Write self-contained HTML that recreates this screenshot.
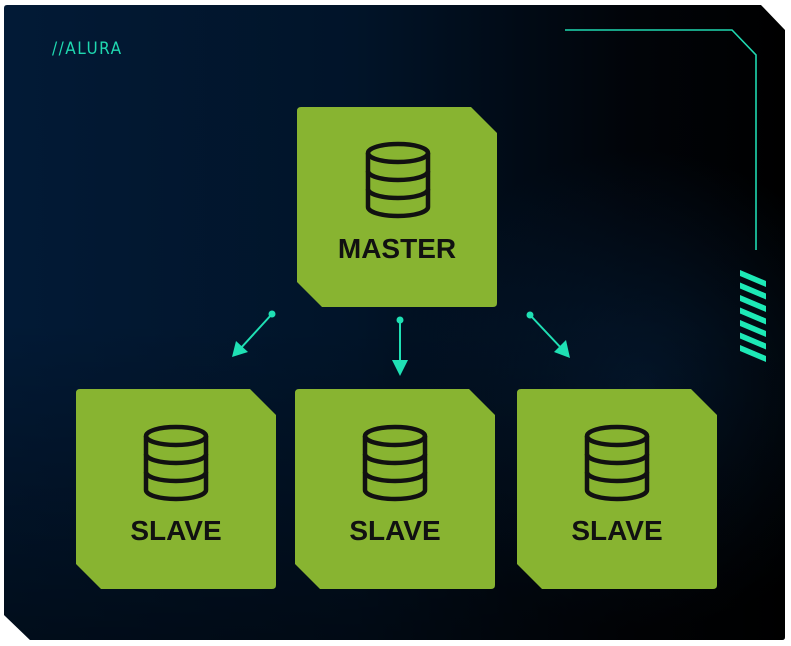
<!DOCTYPE html>
<html><head><meta charset="utf-8"><style>
html,body{margin:0;padding:0;background:#fff;width:791px;height:646px;overflow:hidden}
svg{display:block}
text{font-family:"Liberation Sans",sans-serif}
</style></head><body>
<svg width="791" height="646" viewBox="0 0 791 646" xmlns="http://www.w3.org/2000/svg">
<defs>
<linearGradient id="bg" x1="0" y1="0" x2="1" y2="0">
<stop offset="0" stop-color="#021a36"/>
<stop offset="0.45" stop-color="#011429"/>
<stop offset="0.8" stop-color="#010409"/>
<stop offset="1" stop-color="#000000"/>
</linearGradient>
<radialGradient id="glow" cx="640" cy="390" r="240" gradientUnits="userSpaceOnUse">
<stop offset="0" stop-color="#06294f" stop-opacity="0.5"/>
<stop offset="1" stop-color="#06294f" stop-opacity="0"/>
</radialGradient>
<linearGradient id="bot" x1="0" y1="0" x2="0" y2="1">
<stop offset="0.5" stop-color="#000" stop-opacity="0"/>
<stop offset="1" stop-color="#000" stop-opacity="0.5"/>
</linearGradient>
<g id="db" fill="none" stroke="#111" stroke-width="4.5">
<ellipse cx="0" cy="0" rx="30" ry="9"/>
<path d="M-30 0 V54 A30 9 0 0 0 30 54 V0"/>
<path d="M-30 18 A30 9 0 0 0 30 18"/>
<path d="M-30 36 A30 9 0 0 0 30 36"/>
</g>
</defs>
<path d="M7 5 H761 L785 30 V637 Q785 640 782 640 H30 L4 615 V8 Q4 5 7 5Z" fill="url(#bg)"/>
<path d="M7 5 H761 L785 30 V637 Q785 640 782 640 H30 L4 615 V8 Q4 5 7 5Z" fill="url(#glow)"/>
<path d="M7 5 H761 L785 30 V637 Q785 640 782 640 H30 L4 615 V8 Q4 5 7 5Z" fill="url(#bot)"/>
<text x="52" y="54" fill="#1fd8b0" font-size="17" letter-spacing="1.5" style="font-family:'DejaVu Sans Condensed','Liberation Sans Narrow',sans-serif" font-weight="300">//ALURA</text>
<path d="M565 30 H732 L756 55 V250" fill="none" stroke="#1fd8b0" stroke-width="1.6"/>
<g fill="#1de9b6">
<path d="M740 270 L766 281 V287 L740 276 Z"/>
<path d="M740 282.5 L766 293.5 V299.5 L740 288.5 Z"/>
<path d="M740 295 L766 306 V312 L740 301 Z"/>
<path d="M740 307.5 L766 318.5 V324.5 L740 313.5 Z"/>
<path d="M740 320 L766 331 V337 L740 326 Z"/>
<path d="M740 332.5 L766 343.5 V349.5 L740 338.5 Z"/>
<path d="M740 345 L766 356 V362 L740 351 Z"/>
</g>
<g fill="#88b431">
<path d="M301 107 H471 L497 133 V303 Q497 307 493 307 H322 L297 282 V111 Q297 107 301 107Z"/>
<path d="M80 389 H250 L276 415 V585 Q276 589 272 589 H101 L76 564 V393 Q76 389 80 389Z"/>
<path d="M299 389 H469 L495 415 V585 Q495 589 491 589 H320 L295 564 V393 Q295 389 299 389Z"/>
<path d="M521 389 H691 L717 415 V585 Q717 589 713 589 H542 L517 564 V393 Q517 389 521 389Z"/>
</g>
<use href="#db" x="398" y="153"/>
<use href="#db" x="176" y="436"/>
<use href="#db" x="395" y="436"/>
<use href="#db" x="617" y="436"/>
<g fill="#111" font-weight="bold" font-size="28" text-anchor="middle">
<text x="397" y="258">MASTER</text>
<text x="176" y="540">SLAVE</text>
<text x="395" y="540">SLAVE</text>
<text x="617" y="540">SLAVE</text>
</g>
<g stroke="#1fe0b4" stroke-width="2" fill="#1fe0b4">
<circle cx="272" cy="314" r="3.5" stroke="none"/>
<line x1="272" y1="314" x2="240" y2="349"/>
<path d="M232 357 L236 341 L248 352 Z" stroke="none"/>
<circle cx="400" cy="320" r="3.5" stroke="none"/>
<line x1="400" y1="320" x2="400" y2="366"/>
<path d="M400 376 L392 360 L408 360 Z" stroke="none"/>
<circle cx="530" cy="315" r="3.5" stroke="none"/>
<line x1="530" y1="315" x2="563" y2="350"/>
<path d="M570 358 L554 352 L566 340 Z" stroke="none"/>
</g>
</svg>
</body></html>
